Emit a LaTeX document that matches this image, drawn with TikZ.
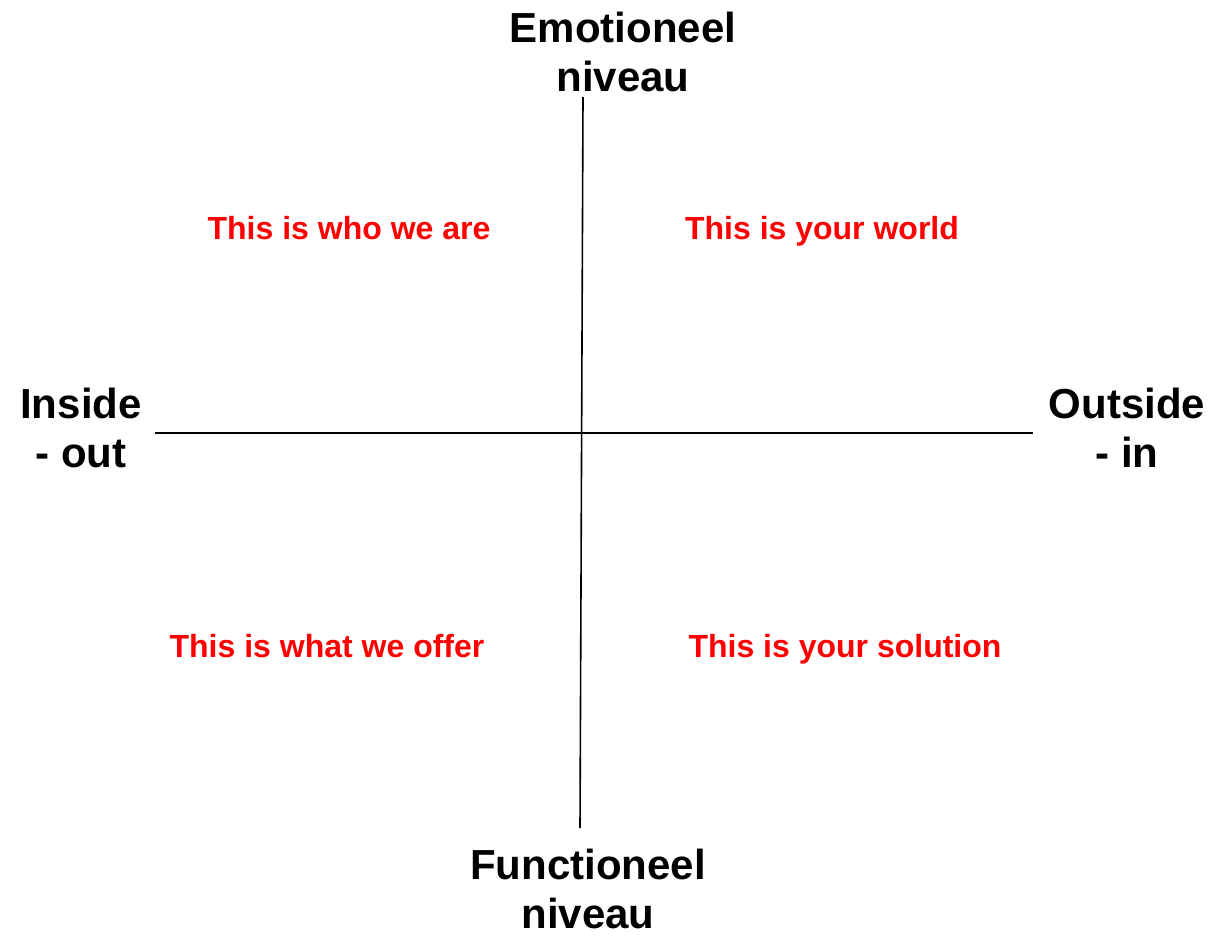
\documentclass[tikz,border=0pt]{standalone}
\usepackage{fontspec}
\setmainfont{Liberation Sans}
\usepackage{tikz}
\usetikzlibrary{positioning}
\tikzset{
  axislabel/.style={font=\fontsize{42}{49}\selectfont\bfseries, align=center, inner sep=0pt},
  quadrant/.style={font=\fontsize{32}{38}\selectfont\bfseries, text=red, inner sep=0pt, anchor=base},
  axis/.style={thick, black, line width=1.6pt}
}
\begin{document}
\begin{tikzpicture}[x=1pt,y=-1pt]
\useasboundingbox (0,0) rectangle (1215,935);
\coordinate (top) at (583,97);
\coordinate (bottom) at (580,828);
\coordinate (left) at (155,433);
\coordinate (right) at (1033,433);
\draw[axis] (top) -- (bottom);
\draw[axis] (left) -- (right);
\node[axislabel] (emo) at (623,52) {Emotioneel\\niveau};
\node[axislabel] (func) at (588,889) {Functioneel\\niveau};
\node[axislabel] (inside) at (81,428) {Inside\\- out};
\node[axislabel] (outside) at (1127,428) {Outside\\- in};
\node[quadrant] (who) at (349,239) {This is who we are};
\node[quadrant] (world) at (822,239) {This is your world};
\node[quadrant] (offer) at (327,657) {This is what we offer};
\node[quadrant] (solution) at (845,657) {This is your solution};
\end{tikzpicture}
\end{document}
